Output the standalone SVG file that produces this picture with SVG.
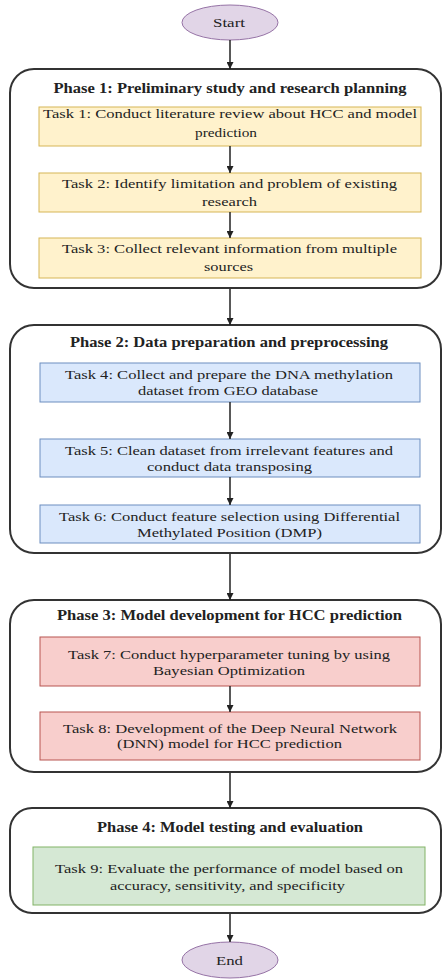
<svg xmlns="http://www.w3.org/2000/svg" width="443" height="979" viewBox="0 0 443 979" font-family="Liberation Serif, Times New Roman, Tinos, DejaVu Serif, Noto Serif, serif">
<defs>
<marker id="ah" viewBox="0 0 10 10" refX="10" refY="5" markerWidth="7" markerHeight="7" markerUnits="userSpaceOnUse" orient="auto">
<path d="M0,0 L10,5 L0,10 z" fill="#222"/>
</marker>
<style>
.phase{fill:#fff;stroke:#333;stroke-width:2}
.term{fill:#e1d5e7;stroke:#9673a6;stroke-width:1}
.y{fill:#fff2cc;stroke:#d6b656;stroke-width:1}
.b{fill:#dae8fc;stroke:#6c8ebf;stroke-width:1}
.r{fill:#f8cecc;stroke:#b85450;stroke-width:1}
.g{fill:#d5e8d4;stroke:#82b366;stroke-width:1}
text{fill:#222;text-anchor:middle}
.t{font-size:13px}
.h{font-size:14px;font-weight:bold}
.c{fill:none;stroke:#222;stroke-width:1.5;marker-end:url(#ah)}
</style>
</defs>
<g id="start"><ellipse class="term" cx="230" cy="22.5" rx="48" ry="17.5"/><text class="t" x="229" y="27" textLength="32" lengthAdjust="spacingAndGlyphs">Start</text></g>
<g id="phase1">
<rect class="phase" x="10" y="69" width="431" height="219" rx="24"/>
<text class="h" x="230" y="93" textLength="353" lengthAdjust="spacingAndGlyphs">Phase 1: Preliminary study and research planning</text>
</g>
<g id="task1"><rect class="y" x="39" y="107" width="382" height="39"/>
<text class="t" x="230" y="118" textLength="374" lengthAdjust="spacingAndGlyphs">Task 1: Conduct literature review about HCC and model</text>
<text class="t" x="226" y="137" textLength="62" lengthAdjust="spacingAndGlyphs">prediction</text></g>
<g id="task2"><rect class="y" x="39" y="173" width="382" height="39"/>
<text class="t" x="229.5" y="188" textLength="335" lengthAdjust="spacingAndGlyphs">Task 2: Identify limitation and problem of existing</text>
<text class="t" x="229.5" y="206" textLength="55" lengthAdjust="spacingAndGlyphs">research</text></g>
<g id="task3"><rect class="y" x="39" y="238" width="382" height="40"/>
<text class="t" x="229.5" y="253" textLength="335" lengthAdjust="spacingAndGlyphs">Task 3: Collect relevant information from multiple</text>
<text class="t" x="228.5" y="271" textLength="49" lengthAdjust="spacingAndGlyphs">sources</text></g>
<g id="phase2">
<rect class="phase" x="10" y="325" width="431" height="228" rx="24"/>
<text class="h" x="229" y="347" textLength="318" lengthAdjust="spacingAndGlyphs">Phase 2: Data preparation and preprocessing</text>
</g>
<g id="task4"><rect class="b" x="40" y="363" width="380" height="39"/>
<text class="t" x="229" y="379" textLength="328" lengthAdjust="spacingAndGlyphs">Task 4: Collect and prepare the DNA methylation</text>
<text class="t" x="228" y="395" textLength="180" lengthAdjust="spacingAndGlyphs">dataset from GEO database</text></g>
<g id="task5"><rect class="b" x="40" y="439" width="380" height="38"/>
<text class="t" x="229" y="455" textLength="328" lengthAdjust="spacingAndGlyphs">Task 5: Clean dataset from irrelevant features and</text>
<text class="t" x="229.5" y="471" textLength="165" lengthAdjust="spacingAndGlyphs">conduct data transposing</text></g>
<g id="task6"><rect class="b" x="40" y="505" width="380" height="38"/>
<text class="t" x="229.5" y="521" textLength="341" lengthAdjust="spacingAndGlyphs">Task 6: Conduct feature selection using Differential</text>
<text class="t" x="229.5" y="537" textLength="185" lengthAdjust="spacingAndGlyphs">Methylated Position (DMP)</text></g>
<g id="phase3">
<rect class="phase" x="10" y="600" width="431" height="172" rx="24"/>
<text class="h" x="229.5" y="620" textLength="345" lengthAdjust="spacingAndGlyphs">Phase 3: Model development for HCC prediction</text>
</g>
<g id="task7"><rect class="r" x="40" y="637" width="380" height="49"/>
<text class="t" x="229" y="659" textLength="322" lengthAdjust="spacingAndGlyphs">Task 7: Conduct hyperparameter tuning by using</text>
<text class="t" x="229" y="675" textLength="152" lengthAdjust="spacingAndGlyphs">Bayesian Optimization</text></g>
<g id="task8"><rect class="r" x="40" y="712" width="380" height="48"/>
<text class="t" x="230" y="733" textLength="334" lengthAdjust="spacingAndGlyphs">Task 8: Development of the Deep Neural Network</text>
<text class="t" x="229.5" y="748" textLength="225" lengthAdjust="spacingAndGlyphs">(DNN) model for HCC prediction</text></g>
<g id="phase4">
<rect class="phase" x="10" y="808" width="431" height="105" rx="22"/>
<text class="h" x="230" y="832" textLength="266" lengthAdjust="spacingAndGlyphs">Phase 4: Model testing and evaluation</text>
</g>
<g id="task9"><rect class="g" x="33" y="847" width="392" height="58"/>
<text class="t" x="229" y="873" textLength="348" lengthAdjust="spacingAndGlyphs">Task 9: Evaluate the performance of model based on</text>
<text class="t" x="227.5" y="890" textLength="235" lengthAdjust="spacingAndGlyphs">accuracy, sensitivity, and specificity</text></g>
<g id="end"><ellipse class="term" cx="230" cy="960" rx="48" ry="18"/><text class="t" x="229.5" y="965" textLength="27" lengthAdjust="spacingAndGlyphs">End</text></g>
<g id="connectors">
<line class="c" x1="230" y1="40" x2="230" y2="69"/>
<line class="c" x1="230" y1="146" x2="230" y2="173"/>
<line class="c" x1="230" y1="212" x2="230" y2="238"/>
<line class="c" x1="230" y1="289" x2="230" y2="325"/>
<line class="c" x1="230" y1="402" x2="230" y2="439"/>
<line class="c" x1="230" y1="477" x2="230" y2="505"/>
<line class="c" x1="230" y1="554" x2="230" y2="600"/>
<line class="c" x1="230" y1="686" x2="230" y2="712"/>
<line class="c" x1="230" y1="773" x2="230" y2="808"/>
<line class="c" x1="230" y1="914" x2="230" y2="942"/>
</g>
</svg>
